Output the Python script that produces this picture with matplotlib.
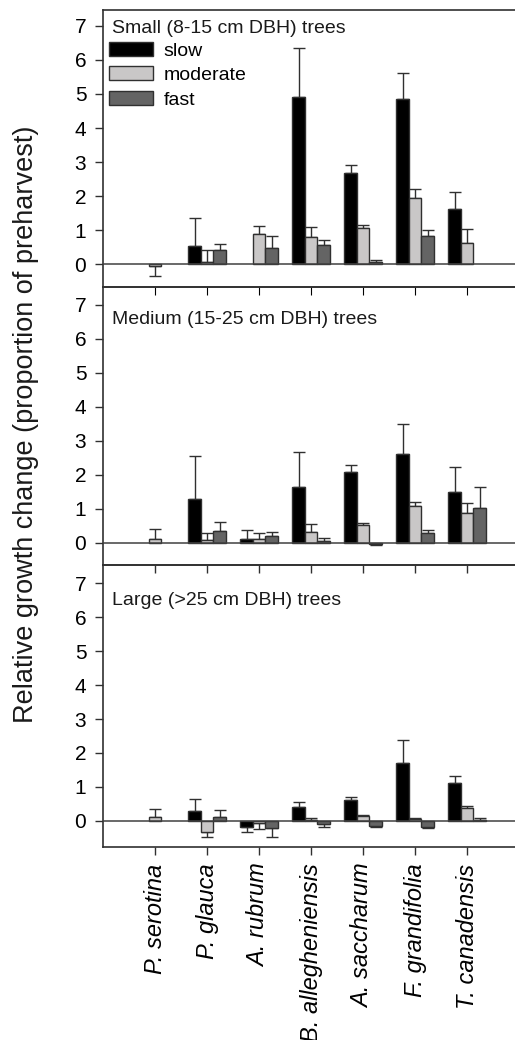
import matplotlib
matplotlib.use("Agg")
import matplotlib.pyplot as plt
import numpy as np

plt.rcParams['font.family'] = ['Liberation Sans', 'DejaVu Sans']

species = ["P. serotina", "P. glauca", "A. rubrum", "B. allegheniensis",
           "A. saccharum", "F. grandifolia", "T. canadensis"]
rates = ["slow", "moderate", "fast"]
panel_titles = ["Small (8-15 cm DBH) trees", "Medium (15-25 cm DBH) trees",
                "Large (>25 cm DBH) trees"]

nan = np.nan
# bar heights per panel: rows = slow, moderate, fast
small_vals = [[nan, 0.52, nan, 4.92, 2.67, 4.86, 1.61],
              [-0.05, 0.06, 0.89, 0.79, 1.05, 1.93, 0.62],
              [nan, 0.41, 0.46, 0.56, 0.07, 0.81, nan]]
small_err = [[nan, 0.83, nan, 1.43, 0.25, 0.77, 0.52],
             [0.29, 0.36, 0.24, 0.29, 0.09, 0.27, 0.40],
             [nan, 0.17, 0.37, 0.16, 0.05, 0.20, nan]]

medium_vals = [[nan, 1.28, 0.10, 1.64, 2.08, 2.61, 1.49],
               [0.12, 0.09, 0.12, 0.31, 0.52, 1.07, 0.86],
               [nan, 0.34, 0.19, 0.05, -0.03, 0.29, 1.01]]
medium_err = [[nan, 1.26, 0.28, 1.02, 0.22, 0.88, 0.75],
              [0.27, 0.19, 0.18, 0.25, 0.07, 0.14, 0.30],
              [nan, 0.28, 0.12, 0.08, 0.04, 0.08, 0.63]]

large_vals = [[nan, 0.29, -0.19, 0.40, 0.63, 1.71, 1.12],
              [0.13, -0.33, -0.06, 0.03, 0.14, 0.05, 0.37],
              [nan, 0.11, -0.21, -0.10, -0.14, -0.18, 0.02]]
large_err = [[nan, 0.36, 0.14, 0.15, 0.08, 0.67, 0.21],
             [0.23, 0.15, 0.17, 0.07, 0.03, 0.05, 0.07],
             [nan, 0.22, 0.25, 0.08, 0.03, 0.03, 0.06]]

all_vals = [small_vals, medium_vals, large_vals]
all_err = [small_err, medium_err, large_err]

colors = ["#000000", "#c9c7c7", "#646464"]
edge = "#303030"
width = 0.24
offsets = [-width, 0, width]

fig = plt.figure(figsize=(5.15, 10.4), dpi=100)
# panel positions (left, bottom, width, height) in figure fraction
positions = [(0.2, 0.724, 0.808, 0.2664),
             (0.2, 0.4567, 0.808, 0.2673),
             (0.2, 0.1856, 0.808, 0.2711)]
ylims = [(-0.676, 7.47), (-0.656, 7.52), (-0.765, 7.53)]
title_y = [0.965, 0.915, 0.905]

x = np.arange(len(species))
axes = []
for p in range(3):
    ax = fig.add_axes(positions[p])
    axes.append(ax)
    vals = all_vals[p]
    errs = all_err[p]
    for k in range(3):
        v = np.array(vals[k], dtype=float)
        e = np.array(errs[k], dtype=float)
        m = ~np.isnan(v)
        xs = x[m] + offsets[k]
        ax.bar(xs, v[m], width=width, color=colors[k], edgecolor=edge,
               linewidth=1.0, label=rates[k], zorder=2)
        lower = np.where(v[m] < 0, e[m], 0)
        upper = np.where(v[m] >= 0, e[m], 0)
        ax.errorbar(xs, v[m], yerr=[lower, upper], fmt='none', ecolor=edge,
                    elinewidth=1.0, capsize=4, capthick=1.0, zorder=1)
    ax.axhline(0, color="#404040", linewidth=1.1, zorder=3)
    ax.set_xlim(-1, 7)
    ax.set_ylim(*ylims[p])
    ax.set_yticks(range(0, 8))
    ax.tick_params(axis='y', direction='out', length=6, width=1,
                   labelsize=15, pad=6, color="#303030")
    ax.spines['right'].set_visible(False)
    for s in ['left', 'top', 'bottom']:
        ax.spines[s].set_color("#303030")
        ax.spines[s].set_linewidth(1.2)
    ax.set_xticks(x)
    if p == 2:
        ax.tick_params(axis='x', bottom=True, direction='out', length=6,
                       width=1, color="#303030", pad=6)
        ax.set_xticklabels(species, rotation=90, fontsize=17, style='italic')
    else:
        ax.tick_params(axis='x', bottom=False, labelbottom=False)
    if p > 0:
        ax.tick_params(axis='x', which='major', top=True)
        for t in ax.xaxis.get_major_ticks():
            t.tick2line.set_marker(3)  # tick pointing down from top spine
            t.tick2line.set_markersize(6)
            t.tick2line.set_color("#303030")
    ax.text(0.022, title_y[p], panel_titles[p], transform=ax.transAxes,
            fontsize=14, va='top', ha='left', color="#1a1a1a")
    ax.set_facecolor('none')

axes[0].legend(loc='upper left', bbox_to_anchor=(0.014, 0.885), frameon=False,
               fontsize=14, handlelength=2.25, handleheight=0.72,
               handletextpad=0.55, labelspacing=0.35, borderpad=0,
               borderaxespad=0)

fig.text(0.05, 0.592, "Relative growth change (proportion of preharvest)",
         rotation=90, va='center', ha='center', fontsize=19.5, color="#1a1a1a")

fig.savefig("out.png", dpi=100)
